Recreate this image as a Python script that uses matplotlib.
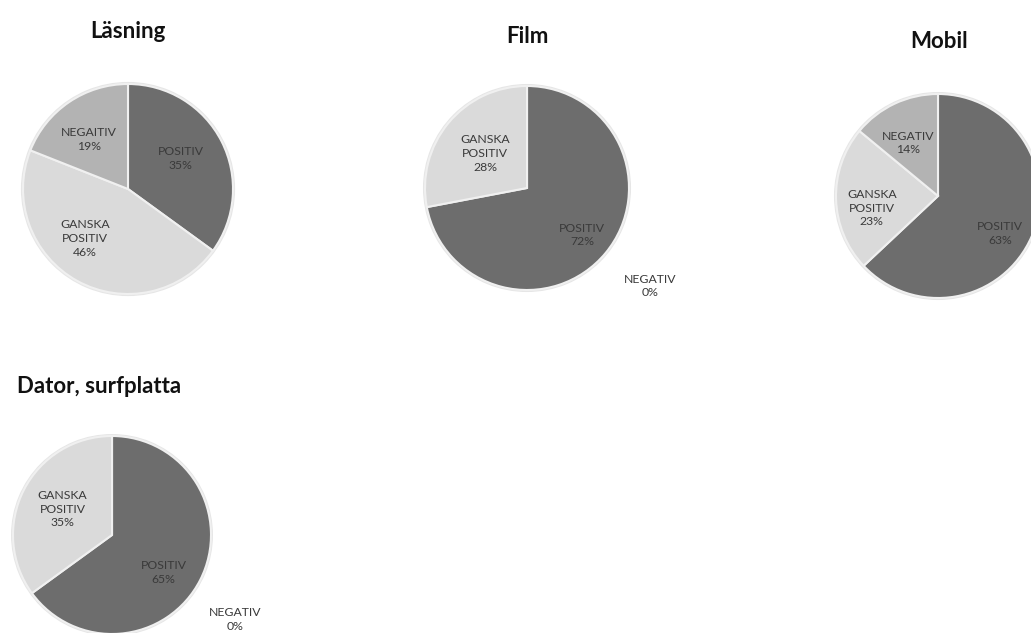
import matplotlib
matplotlib.use("Agg")
import matplotlib.pyplot as plt

# data
titles = ["Läsning", "Film", "Mobil", "Dator, surfplatta"]
categories = ["POSITIV", "GANSKA\nPOSITIV", "NEGATIV"]
neg_names = ["NEGAITIV", "NEGATIV", "NEGATIV", "NEGATIV"]
lasning = [35, 46, 19]
film = [72, 28, 0]
mobil = [63, 23, 14]
dator = [65, 35, 0]
all_values = [lasning, film, mobil, dator]

# layout (pixels in a 1031x633 figure)
W, H = 1031, 633
centers = [(128, 189), (527, 188), (938, 196), (112, 535)]
radii = [105, 102, 102, 99]
label_pos = [
    [(0.50, 0.29), (-0.41, -0.47), (-0.37, 0.47)],
    [(0.54, -0.46), (-0.41, 0.34), (1.21, -0.96)],
    [(0.61, -0.37), (-0.65, -0.12), (-0.29, 0.52)],
    [(0.52, -0.38), (-0.50, 0.26), (1.24, -0.85)],
]
title_pos = [(128, 38, "center"), (527, 43, "center"), (939, 48, "center"), (17, 393, "left")]
colors = ["#6d6d6d", "#dadada", "#b3b3b3"]

plt.rcParams["font.family"] = ["Lato", "DejaVu Sans"]
fig = plt.figure(figsize=(W / 100, H / 100), dpi=100)
fig.patch.set_facecolor("white")

for i, vals in enumerate(all_values):
    cx, cy = centers[i]
    r = radii[i]
    ax = fig.add_axes([(cx - r) / W, (H - cy - r) / H, 2 * r / W, 2 * r / H])
    # soft shadow ring under the pie
    ax.pie([1], colors=["#e6e6e6"], radius=1.02, startangle=90,
           wedgeprops=dict(linewidth=0))
    ax.pie(vals, colors=colors, startangle=90, counterclock=False, radius=1,
           wedgeprops=dict(edgecolor="#f0f0f0", linewidth=1.5))
    ax.set_xlim(-1, 1)
    ax.set_ylim(-1, 1)
    ax.set_aspect("auto")
    ax.axis("off")
    names = [categories[0], categories[1], neg_names[i]]
    for j, v in enumerate(vals):
        lx, ly = label_pos[i][j]
        ax.text(lx, ly, f"{names[j]}\n{v}%", ha="center", va="center",
                fontsize=8.8, color="#3a3a3a", linespacing=1.3, clip_on=False)

    tx, ty, ha = title_pos[i]
    fig.text(tx / W, 1 - ty / H, titles[i], ha=ha, va="baseline",
             fontsize=16, fontweight="bold", color="#111111")

fig.savefig("out.png", dpi=100)
